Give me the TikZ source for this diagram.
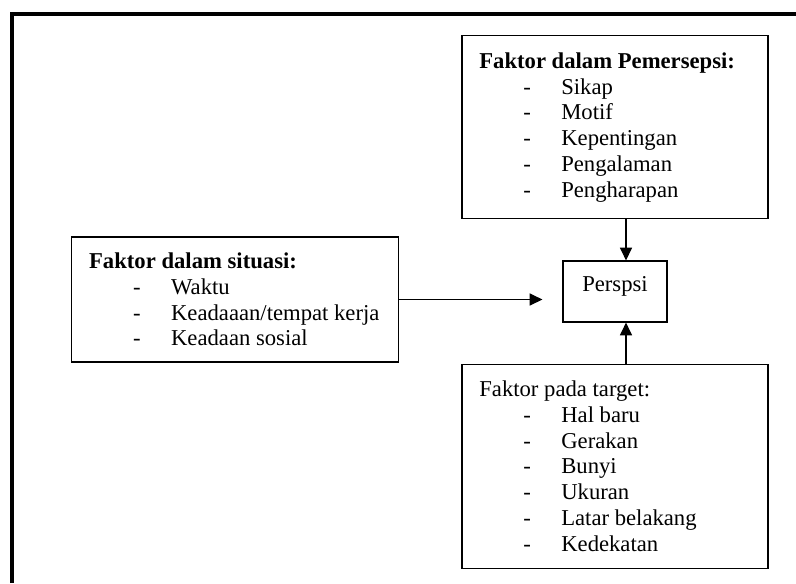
\documentclass[tikz,border=0pt]{standalone}
\usepackage{fontspec}
\setmainfont{Liberation Serif}
\usetikzlibrary{positioning,arrows.meta}

% one list line: dash, then the item
\newcommand{\butir}{\hspace*{33pt}\makebox[28.5pt][l]{-}}

\begin{document}
\begin{tikzpicture}[
  x=0.75pt, y=-0.75pt,
  box/.style={draw, line width=0.9pt, align=flush left, inner xsep=13pt, inner ysep=0pt, font={\fontsize{17}{19.3}\selectfont}},
  hasil/.style={draw, line width=0.9pt, align=center, minimum width=78pt, minimum height=45.75pt, inner sep=0pt, text height=11.5pt, text depth=11.5pt, font={\fontsize{17}{19.3}\selectfont}},
  arr/.style={-{Triangle[length=9.5pt,width=9pt]}, line width=0.9pt},
  bingkai/.style={line width=3pt}
]
\useasboundingbox (0,0) rectangle (796,583);
\draw[bingkai] (11.5,583) -- (11.5,14) -- (796,14);

\node[hasil] (persepsi) at (615,291.5) {Perspsi};

\node[box, text width=203.5pt, minimum height=137.25pt, above=30.75pt of persepsi] (pemersepsi) {\textbf{Faktor dalam Pemersepsi:}\\
\butir Sikap\\
\butir Motif\\
\butir Kepentingan\\
\butir Pengalaman\\
\butir Pengharapan};

\node[box, text width=203.5pt, minimum height=153pt, below=30.75pt of persepsi] (target) {Faktor pada target:\\
\butir Hal baru\\
\butir Gerakan\\
\butir Bunyi\\
\butir Ukuran\\
\butir Latar belakang\\
\butir Kedekatan};

\node[box, text width=219.25pt, minimum height=93.75pt, left=122.25pt of persepsi, yshift=-6pt] (situasi) {\textbf{Faktor dalam situasi:}\\
\butir Waktu\\
\butir Keadaaan/tempat~kerja\\
\butir Keadaan sosial};

\coordinate (ujung) at ([xshift=-15pt]persepsi.west |- situasi.east);

\draw[arr] ([xshift=8.25pt]pemersepsi.south) -- ([xshift=8.25pt]persepsi.north);
\draw[arr] ([xshift=8.25pt]target.north) -- ([xshift=8.25pt]persepsi.south);
\draw[arr] (situasi.east) -- (ujung);
\end{tikzpicture}
\end{document}
